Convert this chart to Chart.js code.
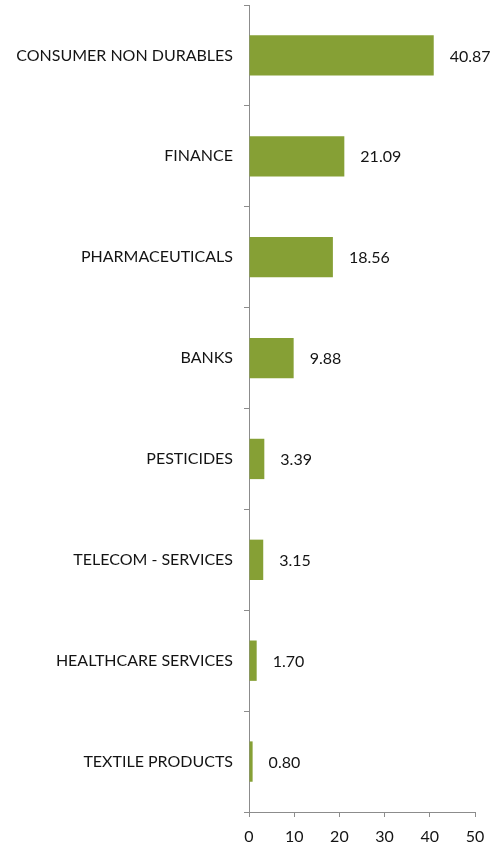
<!DOCTYPE html>
<html>
<head>
<meta charset="utf-8">
<script src="https://cdn.jsdelivr.net/npm/chart.js@4/dist/chart.umd.min.js"></script>
<style>
    html, body { margin: 0; padding: 0; background: #ffffff; }
    #wrap { width: 504px; height: 842px; }
</style>
</head>
<body>
<div id="wrap"><canvas id="sectorChart" width="504" height="842"></canvas></div>
<script>
// Sector weights (%)
const sectors = [
    'CONSUMER NON DURABLES',
    'FINANCE',
    'PHARMACEUTICALS',
    'BANKS',
    'PESTICIDES',
    'TELECOM - SERVICES',
    'HEALTHCARE SERVICES',
    'TEXTILE PRODUCTS'
];
const weights = [40.87, 21.09, 18.56, 9.88, 3.39, 3.15, 1.70, 0.80];
const xTicks = [0, 10, 20, 30, 40, 50];

const barColor = '#86a035';
const axisColor = '#8c8c8c';
const textColor = '#141414';
const fontFamily = 'Lato, "Open Sans", sans-serif';

// Writes the value beside the end of each bar
const valueLabels = {
    id: 'valueLabels',
    afterDatasetsDraw(chart) {
        const ctx = chart.ctx;
        const meta = chart.getDatasetMeta(0);
        ctx.save();
        ctx.font = '16px ' + fontFamily;
        ctx.fillStyle = textColor;
        ctx.textAlign = 'left';
        ctx.textBaseline = 'middle';
        meta.data.forEach((bar, i) => {
            ctx.fillText(weights[i].toFixed(2), bar.x + 16, bar.y + 1);
        });
        ctx.restore();
    }
};

new Chart(document.getElementById('sectorChart'), {
    type: 'bar',
    data: {
        labels: sectors,
        datasets: [{
            data: weights,
            backgroundColor: barColor,
            borderWidth: 0,
            categoryPercentage: 0.4,
            barPercentage: 1.0
        }]
    },
    options: {
        indexAxis: 'y',
        responsive: false,
        animation: false,
        layout: {
            padding: { top: 5, right: 29, left: 0, bottom: 0 }
        },
        plugins: {
            legend: { display: false },
            tooltip: { enabled: false }
        },
        scales: {
            x: {
                min: 0,
                max: 50,
                afterBuildTicks: (axis) => {
                    axis.ticks = xTicks.map(v => ({ value: v }));
                },
                afterFit: (axis) => {
                    axis.height = 30;
                    axis.paddingLeft = 0;
                    axis.paddingRight = 0;
                },
                border: { color: axisColor, width: 1 },
                grid: {
                    drawOnChartArea: false,
                    drawTicks: true,
                    tickLength: 5,
                    color: axisColor
                },
                ticks: {
                    padding: 10,
                    color: textColor,
                    font: { family: fontFamily, size: 16 },
                    maxRotation: 0
                }
            },
            y: {
                afterFit: (axis) => {
                    axis.width = 249;
                    axis.paddingTop = 0;
                    axis.paddingBottom = 0;
                },
                border: { color: axisColor, width: 1 },
                grid: {
                    offset: true,
                    drawOnChartArea: false,
                    drawTicks: true,
                    tickLength: 5,
                    color: axisColor
                },
                ticks: {
                    padding: 11,
                    color: textColor,
                    font: { family: fontFamily, size: 16 }
                }
            }
        }
    },
    plugins: [valueLabels]
});
</script>
</body>
</html>
